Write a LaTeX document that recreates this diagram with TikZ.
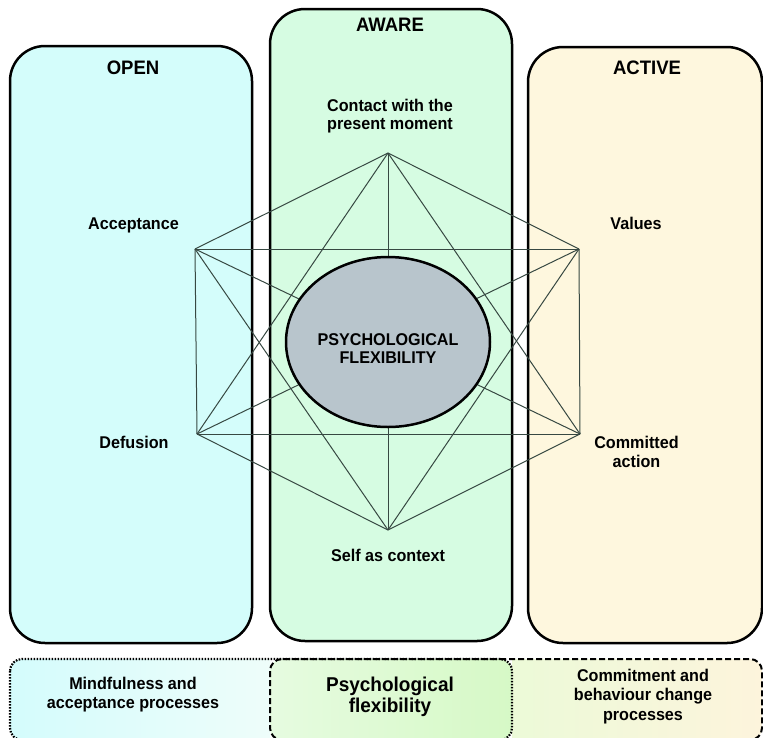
\documentclass[tikz,border=0pt]{standalone}
\usepackage{fontspec}
\usetikzlibrary{shapes.geometric}
\newfontfamily\lab{Liberation Sans}[FakeStretch=0.95]
\definecolor{openfill}{RGB}{212,253,251}
\definecolor{awarefill}{RGB}{214,252,226}
\definecolor{activefill}{RGB}{254,247,222}
\definecolor{ellfill}{RGB}{184,197,204}
\definecolor{edgecol}{RGB}{55,72,66}
\definecolor{bA}{RGB}{212,252,252}
\definecolor{bB}{RGB}{238,253,250}
\definecolor{bC}{RGB}{230,251,224}
\definecolor{bD}{RGB}{214,249,198}
\definecolor{bE}{RGB}{236,250,216}
\definecolor{bF}{RGB}{253,244,220}
\begin{document}
\begin{tikzpicture}[x=1pt,y=-1pt,
  bigbox/.style={line width=2.5pt, rounded corners=35pt},
  ttl/.style={font=\lab\bfseries\fontsize{19.5}{22}\selectfont, anchor=base},
  lbl/.style={font=\lab\bfseries\fontsize{17}{18.5}\selectfont, align=center, anchor=base},
  blbl/.style={font=\lab\bfseries\fontsize{17}{19.5}\selectfont, align=center, anchor=base},
  edge/.style={draw=edgecol, line width=1pt},
  dotbox/.style={line width=2.2pt, dash pattern=on 1.6pt off 1.4pt, rounded corners=12pt},
  dashbox/.style={line width=2pt, dash pattern=on 6pt off 3pt, rounded corners=12pt}]
\useasboundingbox (0,0) rectangle (763,737);

% big columns
\draw[bigbox, fill=openfill] (10,46) rectangle (252,643);
\draw[bigbox, fill=awarefill] (270,9) rectangle (512,641);
\draw[bigbox, fill=activefill] (528,47) rectangle (762,643);

% hexagon vertices
\coordinate (T) at (388,153);
\coordinate (UL) at (195,249);
\coordinate (UR) at (579,249);
\coordinate (LL) at (197,434);
\coordinate (LR) at (580,434);
\coordinate (B) at (388,530);
\foreach \a/\b in {T/UL,T/UR,T/LL,T/LR,T/B,UL/UR,UL/LL,UL/LR,UL/B,UR/LL,UR/LR,UR/B,LL/LR,LL/B,LR/B}
  \draw[edge] (\a) -- (\b);

% centre ellipse
\node[draw, line width=2.5pt, fill=ellfill, ellipse, minimum width=204pt, minimum height=170pt, inner sep=0pt] (pf) at (388,342) {};
\node[lbl] (pftext) at (388,363.5) {PSYCHOLOGICAL\\FLEXIBILITY};

% titles
\node[ttl] (open) at (133,74) {OPEN};
\node[ttl] (aware) at (390,31) {AWARE};
\node[ttl] (active) at (647,74) {ACTIVE};

% process labels
\node[lbl] (contact) at (390,129.5) {Contact with the\\present moment};
\node[lbl] (acc) at (133.5,229) {Acceptance};
\node[lbl] (val) at (636,229) {Values};
\node[lbl] (def) at (134,448) {Defusion};
\node[lbl] (comm) at (636.5,467) {Committed\\action};
\node[lbl] (self) at (388,561) {Self as context};

% bottom band fills
\begin{scope}
  \clip[rounded corners=12pt] (10,659) rectangle (512,740);
  \shade[left color=bA, right color=bB] (10,659) rectangle (270,740);
\end{scope}
\begin{scope}
  \clip[rounded corners=12pt] (270,659) rectangle (512,740);
  \shade[left color=bC, right color=bD] (270,659) rectangle (512,740);
\end{scope}
\begin{scope}
  \clip[rounded corners=12pt] (270,659) rectangle (762,740);
  \shade[left color=bE, right color=bF] (512,659) rectangle (762,740);
\end{scope}
\draw[dotbox] (10,659) rectangle (512,740);
\draw[dashbox] (270,659) rectangle (762,740);

\node[blbl] (mind) at (133,708.5) {Mindfulness and\\acceptance processes};
\node[font=\lab\bfseries\fontsize{20}{20.5}\selectfont, align=center, anchor=base] (psyf) at (390,712) {Psychological\\flexibility};
\node[blbl] (commit) at (643,720) {Commitment and\\behaviour change\\processes};
\end{tikzpicture}
\end{document}
